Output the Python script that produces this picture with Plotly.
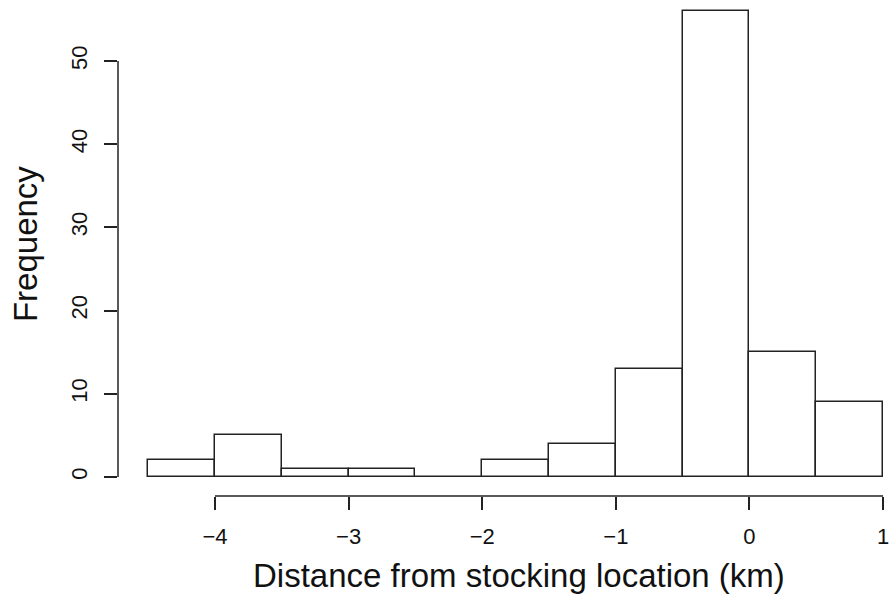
import plotly.graph_objects as go

# Histogram bins (km) and counts
bin_edges = [-4.5, -4.0, -3.5, -3.0, -2.5, -2.0, -1.5, -1.0, -0.5, 0.0, 0.5, 1.0]
counts = [2, 5, 1, 1, 0, 2, 4, 13, 56, 15, 9]

x_ticks = [-4, -3, -2, -1, 0, 1]
y_ticks = [0, 10, 20, 30, 40, 50]

mids = [(a + b) / 2 for a, b in zip(bin_edges[:-1], bin_edges[1:])]
widths = [b - a for a, b in zip(bin_edges[:-1], bin_edges[1:])]

# centre of the padded (4%) data region, used to centre the axis titles
x_mid = (min(bin_edges) + max(bin_edges)) / 2
y_mid = (0 + max(counts)) / 2


def fmt(v):
    # typographic minus sign for negative tick values
    return str(v).replace("-", "\u2212")


LINE = "#222222"
FONT = "Liberation Sans, Arial, Helvetica, sans-serif"

fig = go.Figure()
fig.add_trace(go.Bar(
    x=mids, y=counts, width=widths,
    marker=dict(color="white", line=dict(color=LINE, width=1.5)),
    hoverinfo="x+y",
))

# R-style axis lines spanning only from first to last tick
fig.add_shape(type="line", xref="x", yref="paper",
              x0=min(x_ticks), x1=max(x_ticks), y0=0, y1=0,
              line=dict(color=LINE, width=1.5))
fig.add_shape(type="line", xref="paper", yref="y",
              x0=0, x1=0, y0=min(y_ticks), y1=max(y_ticks),
              line=dict(color=LINE, width=1.5))

# axis titles
fig.add_annotation(text="Distance from stocking location (km)",
                   xref="x", yref="paper", x=x_mid, y=0,
                   xshift=3, yshift=-79, yanchor="middle", showarrow=False,
                   font=dict(size=33))
fig.add_annotation(text="Frequency",
                   xref="paper", yref="y", x=0, y=y_mid,
                   xshift=-93, xanchor="center", showarrow=False,
                   textangle=-90, font=dict(size=33))

fig.update_layout(
    width=890, height=608,
    margin=dict(l=118, r=0, t=0, b=112),
    paper_bgcolor="white", plot_bgcolor="white",
    showlegend=False,
    bargap=0,
    font=dict(family=FONT, color="#111111"),
    xaxis=dict(
        range=[-4.726, 1.052],
        tickvals=x_ticks, ticktext=[fmt(v) for v in x_ticks],
        ticks="outside", ticklen=13, tickwidth=1.5, tickcolor=LINE,
        showline=False, showgrid=False, zeroline=False,
        tickfont=dict(size=22),
        ticklabelstandoff=8,
    ),
    yaxis=dict(
        range=[-2.28, 57.33],
        tickvals=y_ticks, ticktext=[fmt(v) for v in y_ticks],
        ticks="outside", ticklen=13, tickwidth=1.5, tickcolor=LINE,
        tickangle=-90,
        showline=False, showgrid=False, zeroline=False,
        tickfont=dict(size=22),
        ticklabelstandoff=8,
    ),
)

fig.write_html("out.html")
